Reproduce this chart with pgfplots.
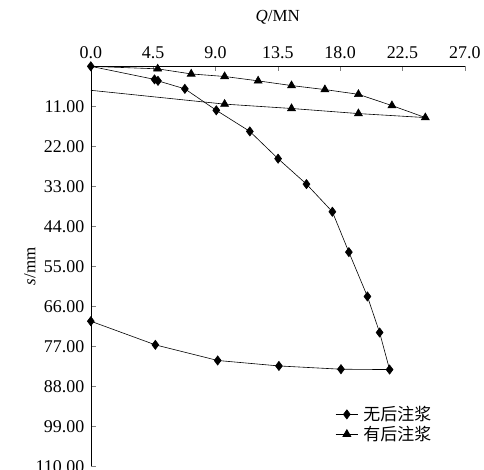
\documentclass[border=0pt]{standalone}
\usepackage{pgfplots}
\pgfplotsset{compat=1.18}
\usepackage{fontspec}
\setmainfont{Liberation Serif}
\newfontfamily\cjk{Noto Sans CJK SC}
\begin{document}
\begin{tikzpicture}
\begin{axis}[
  scale only axis,
  width=374bp, height=400bp,
  xmin=0, xmax=27, ymin=0, ymax=110,
  y dir=reverse,
  axis x line*=top, axis y line*=left,
  tick align=inside,
  major tick length=5bp,
  xtick={0,4.5,9,13.5,18,22.5,27},
  ytick={11,22,33,44,55,66,77,88,99,110},
  xticklabel style={/pgf/number format/.cd, fixed, fixed zerofill, precision=1},
  yticklabel style={/pgf/number format/.cd, fixed, fixed zerofill, precision=2},
  xticklabel shift=4bp, yticklabel shift=3bp,
  /pgf/number format/assume math mode=true,
  ticklabel style={font=\fontsize{18}{18}\selectfont},
  xlabel={\textit{Q}/MN},
  ylabel={\textit{s}/mm},
  every axis x label/.style={at={(axis description cs:0.5,1)}, yshift=49bp, anchor=center, font=\fontsize{17}{17}\selectfont},
  every axis y label/.style={at={(axis description cs:0,0.5)}, xshift=-61bp, rotate=90, anchor=center, font=\fontsize{17}{17}\selectfont},
  clip=false,
  legend style={draw=none, fill=none, at={(0.645,0.16)}, anchor=north west,
    font=\cjk\fontsize{17}{20}\selectfont, row sep=0bp,
    nodes={inner xsep=5bp}},
  legend image code/.code={\draw[mark repeat=2,mark phase=2,#1] plot coordinates {(0cm,0cm) (0.4cm,0cm) (0.8cm,0cm)};},
  legend cell align=left,
  every axis plot/.append style={black, line width=0.6bp},
]
\addlegendimage{black, line width=0.6bp, mark=diamond*, mark size=4.6bp}
\addlegendentry{无后注浆}
\addlegendimage{black, line width=0.6bp, mark=triangle*, mark size=4.6bp}
\addlegendentry{有后注浆}
\addplot[forget plot, mark=triangle*, mark size=4.6bp, mark indices={2,3,4,5,6,7,8,9,10,11,12,13}] coordinates {
 (0,0) (4.83,0.7) (7.25,2.1) (9.66,2.8) (12.08,4.0) (14.49,5.3) (16.9,6.4)
 (19.32,7.7) (21.74,10.8) (24.15,14.1) (19.32,13.0) (14.49,11.6) (9.66,10.4) (0,6.6)};
\addplot[forget plot, mark=diamond*, mark size=4.6bp] coordinates {
 (0,0) (4.6,3.6) (4.85,4.0) (6.79,6.2) (9.06,12.1) (11.48,17.9) (13.52,25.4)
 (15.57,32.4) (17.44,40.0) (18.63,51.1) (19.97,63.3) (20.85,73.2) (21.57,83.4)
 (18.06,83.3) (13.58,82.4) (9.16,80.9) (4.66,76.6) (0,70.1)};
\coordinate (NW) at (axis description cs:0,1);
\coordinate (SE) at (axis description cs:1,0);
\end{axis}
\pgfresetboundingbox
\path ([shift={(-90.8bp,66.3bp)}]NW) rectangle ([shift={(19.2bp,-3.7bp)}]SE);
\end{tikzpicture}
\end{document}
